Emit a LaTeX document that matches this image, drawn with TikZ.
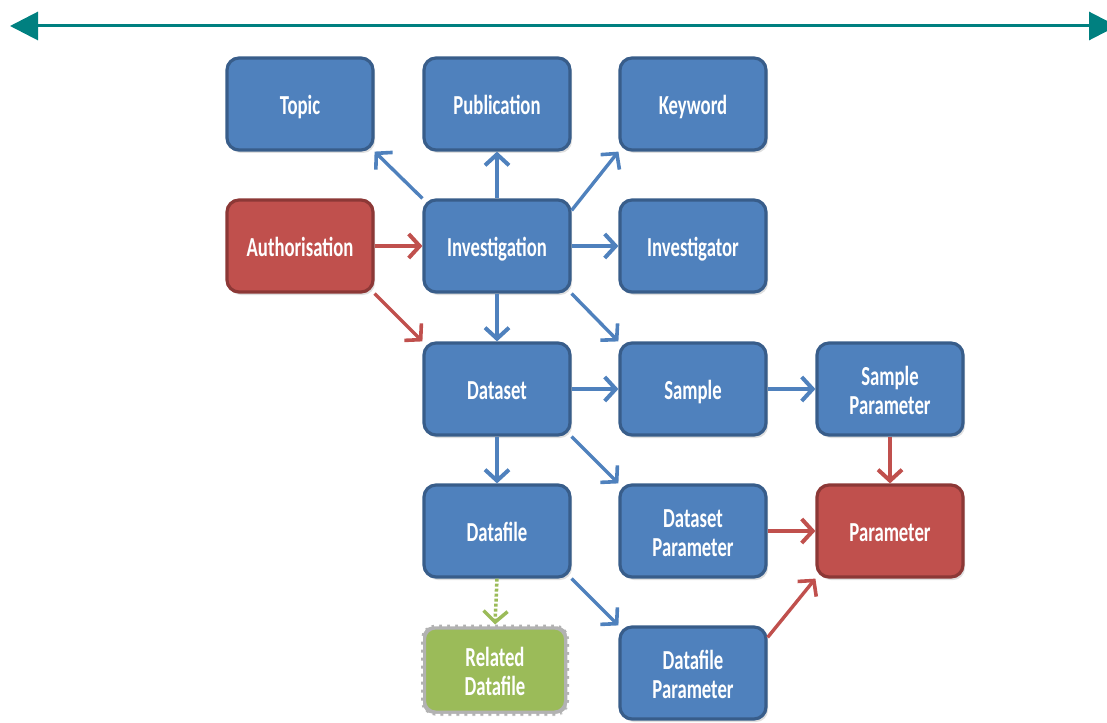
\documentclass[tikz,border=0pt]{standalone}
\usepackage{fontspec}
\usepackage{graphicx}
\setmainfont{Carlito}
\usetikzlibrary{arrows.meta,shadows,calc}

\definecolor{boxblue}{HTML}{4F81BD}
\definecolor{edgeblue}{HTML}{385D8A}
\definecolor{boxred}{HTML}{C0504D}
\definecolor{edgered}{HTML}{8C3836}
\definecolor{boxgreen}{HTML}{9BBB59}
\definecolor{teal}{HTML}{008080}

% box label: condensed bold white text, one or more lines, set a little low
\newcommand{\lbl}[1]{\raisebox{-5pt}[\height][\depth]{\scalebox{0.68}[1]{\begin{tabular}{@{}c@{}}#1\end{tabular}}}}

\tikzset{
  entity/.style={rectangle, rounded corners=12pt, minimum width=146pt, minimum height=92pt,
    line width=3.2pt, text=white, inner sep=0pt,
    font=\fontsize{27.5}{29}\selectfont\bfseries,
    drop shadow={opacity=0.25, shadow xshift=2pt, shadow yshift=-3pt}},
  bluebox/.style={entity, fill=boxblue, draw=edgeblue},
  redbox/.style={entity, fill=boxred, draw=edgered},
  greenbox/.style={entity, fill=boxgreen, draw=black!30, line width=5pt,
    minimum width=143pt, minimum height=86pt},
  link/.style={line width=4.5pt, -{Straight Barb[length=11pt,width=24pt,line width=4pt]}},
  slant/.style={line width=3.4pt, -{Straight Barb[length=11pt,width=24pt,line width=3.6pt]}},
  bluelink/.style={draw=boxblue, color=boxblue},
  redlink/.style={draw=boxred, color=boxred},
}

\begin{document}
\begin{tikzpicture}[x=1pt,y=-1pt]
\useasboundingbox (0,0) rectangle (1107,722);

% scale arrow across the top
\coordinate (tl) at (10,26);
\coordinate (tr) at (1117,26);
\draw[teal, line width=3pt, {Triangle[length=28pt,width=28pt]}-{Triangle[length=28pt,width=28pt]}] (tl) -- (tr);

% entities
\node[bluebox] (topic)   at (300,104) {\lbl{Topic}};
\node[bluebox] (pub)     at (497,104) {\lbl{Publication}};
\node[bluebox] (kw)      at (693,104) {\lbl{Keyword}};
\node[redbox]  (auth)    at (300,246) {\lbl{Authorisation}};
\node[bluebox] (inv)     at (497,246) {\lbl{Investigation}};
\node[bluebox] (invr)    at (693,246) {\lbl{Investigator}};
\node[bluebox] (ds)      at (497,389) {\lbl{Dataset}};
\node[bluebox] (samp)    at (693,389) {\lbl{Sample}};
\node[bluebox] (sampar)  at (890,389) {\lbl{Sample\\Parameter}};
\node[bluebox] (df)      at (497,531) {\lbl{Datafile}};
\node[bluebox] (dspar)   at (693,531) {\lbl{Dataset\\Parameter}};
\node[redbox]  (par)     at (890,531) {\lbl{Parameter}};
\node[greenbox] (rdf)    at (495,670) {\lbl{Related\\Datafile}};
\draw[white, line width=3.5pt, dash pattern=on 5pt off 3pt, rounded corners=12pt]
  (rdf.north west) rectangle (rdf.south east);
\node[bluebox] (dfpar)   at (693,673) {\lbl{Datafile\\Parameter}};

% connectors
\draw[bluelink, slant] (inv.north west) -- (topic.south east);
\draw[bluelink, link]  (inv.north) -- (pub.south);
\draw[bluelink, slant] ($(inv.north east)+(0,12)$) -- (kw.south west);
\draw[bluelink, link]  (inv.east) -- (invr.west);
\draw[redlink, link]   (auth.east) -- (inv.west);
\draw[redlink, slant]  (auth.south east) -- (ds.north west);
\draw[bluelink, link]  (inv.south) -- (ds.north);
\draw[bluelink, slant] (inv.south east) -- (samp.north west);
\draw[bluelink, link]  (ds.east) -- (samp.west);
\draw[bluelink, link]  (samp.east) -- (sampar.west);
\draw[redlink, link]   (sampar.south) -- (par.north);
\draw[bluelink, link]  (ds.south) -- (df.north);
\draw[bluelink, slant] (ds.south east) -- (dspar.north west);
\draw[redlink, link]   (dspar.east) -- (par.west);
\draw[redlink, slant]  ($(dfpar.north east)+(0,12)$) -- (par.south west);
\draw[bluelink, slant] (df.south east) -- (dfpar.north west);
\draw[draw=boxgreen, line width=3.5pt, dash pattern=on 3pt off 2pt,
  -{Straight Barb[length=11pt,width=24pt,line width=3.5pt]}, color=boxgreen] (df.south) -- (rdf.north);
\end{tikzpicture}
\end{document}
